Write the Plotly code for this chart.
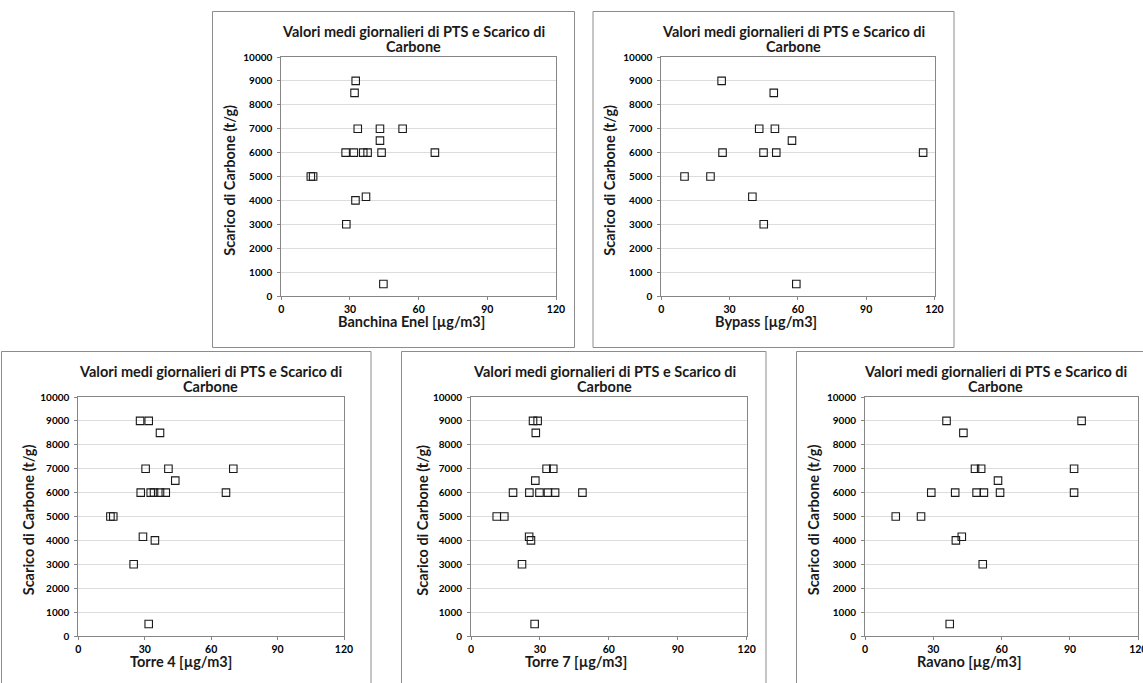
import plotly.graph_objects as go

W, H = 1143, 683

# ---------------- data ----------------
title_line1 = "Valori medi giornalieri di PTS e Scarico di"
title_line2 = "Carbone"
y_title = "Scarico di Carbone (t/g)"
x_titles = ["Banchina Enel [µg/m3]", "Bypass [µg/m3]", "Torre 4 [µg/m3]",
            "Torre 7 [µg/m3]", "Ravano [µg/m3]"]

x_banchina = [32.5, 32.0, 33.4, 43.1, 53.0, 43.1, 28.1, 31.7, 35.8, 37.7, 43.8, 67.1,
              12.9, 13.9, 32.4, 37.0, 28.4, 44.6]
y_banchina = [9000, 8500, 7000, 7000, 7000, 6500, 6000, 6000, 6000, 6000, 6000, 6000,
              5000, 5000, 4000, 4150, 3000, 500]

x_bypass = [26.5, 49.4, 43.0, 49.9, 57.4, 26.9, 44.9, 50.5, 115.0, 10.2, 21.6, 40.0,
            45.0, 59.3]
y_bypass = [9000, 8500, 7000, 7000, 6500, 6000, 6000, 6000, 6000, 5000, 5000, 4150,
            3000, 500]

x_torre4 = [27.9, 31.8, 36.9, 30.4, 40.7, 70.0, 43.8, 28.2, 32.7, 34.2, 36.9, 39.5,
            66.7, 14.5, 15.8, 29.2, 34.6, 25.0, 31.8]
y_torre4 = [9000, 9000, 8500, 7000, 7000, 7000, 6500, 6000, 6000, 6000, 6000, 6000,
            6000, 5000, 5000, 4150, 4000, 3000, 500]

x_torre7 = [27.0, 29.0, 28.2, 32.9, 35.8, 28.0, 18.3, 25.4, 29.8, 33.5, 36.6, 48.5,
            11.2, 14.5, 25.3, 26.1, 22.2, 27.7]
y_torre7 = [9000, 9000, 8500, 7000, 7000, 6500, 6000, 6000, 6000, 6000, 6000, 6000,
            5000, 5000, 4150, 4000, 3000, 500]

x_ravano = [35.8, 43.2, 95.1, 48.3, 51.0, 91.8, 58.4, 29.1, 39.6, 49.0, 52.2, 59.3,
            91.8, 13.5, 24.6, 39.9, 42.5, 51.7, 37.2]
y_ravano = [9000, 8500, 9000, 7000, 7000, 7000, 6500, 6000, 6000, 6000, 6000, 6000,
            6000, 5000, 5000, 4000, 4150, 3000, 500]

x_ticks = [0, 30, 60, 90, 120]
y_ticks = list(range(0, 10001, 1000))

series = [(x_banchina, y_banchina), (x_bypass, y_bypass), (x_torre4, y_torre4),
          (x_torre7, y_torre7), (x_ravano, y_ravano)]

# ---------------- layout geometry (pixels) ----------------
plot_px = [  # x0, x1, y_top, y_bottom
    (281.3, 556.0, 57.0, 296.0),
    (661.3, 934.5, 57.0, 296.0),
    (78.3, 344.0, 397.0, 636.0),
    (471.0, 746.7, 397.0, 636.0),
    (865.0, 1138.3, 397.0, 636.0),
]
box_px = [
    (212.5, 574.5, 11.5, 347.5),
    (593.0, 954.0, 11.5, 347.5),
    (1.5, 371.0, 351.5, 700.0),
    (401.5, 766.0, 351.5, 700.0),
    (796.5, 1160.0, 351.5, 700.0),
]
title_px = [(413.3, 31.7, 46.3), (793.3, 31.7, 46.3), (210.0, 371.7, 386.3),
            (604.3, 371.7, 386.3), (995.0, 371.7, 386.3)]
ytitle_px = [(228.7, 180.0), (608.7, 180.0), (28.3, 520.0), (421.7, 520.0), (813.3, 520.0)]
xtitle_px = [(411.7, 321.7), (765.7, 321.7), (180.5, 661.7), (575.5, 661.7), (969.0, 661.7)]


def px(x):
    return x / W


def py(y):
    return 1 - y / H


FONT = "Lato"
fig = go.Figure()
shapes = []
annotations = []

for i, (xs, ys) in enumerate(series):
    n = i + 1
    xa = "x" if n == 1 else f"x{n}"
    ya = "y" if n == 1 else f"y{n}"
    fig.add_trace(go.Scatter(
        x=xs, y=ys, mode="markers", xaxis=xa, yaxis=ya,
        marker=dict(symbol="square-open", size=7.5, color="#1a1a1a",
                    line=dict(width=1.1, color="#1a1a1a")),
        hoverinfo="x+y", showlegend=False, cliponaxis=False))

    x0, x1, yt, yb = plot_px[i]
    xkey = "xaxis" if n == 1 else f"xaxis{n}"
    ykey = "yaxis" if n == 1 else f"yaxis{n}"
    fig.layout[xkey] = dict(
        domain=[px(x0), px(x1)], anchor=ya, range=[0, 120], automargin=False,
        tickvals=x_ticks, ticks="outside", ticklen=3, tickcolor="#868686",
        showline=True, linecolor="#868686", linewidth=1, mirror=True,
        showgrid=False, zeroline=False, fixedrange=True, tickformat="d",
        ticklabeloverflow="allow",
        tickfont=dict(family=FONT, size=10.5, color="#000", weight="bold"))
    fig.layout[ykey] = dict(
        domain=[py(yb), py(yt)], anchor=xa, range=[0, 10000], automargin=False,
        tickvals=y_ticks, ticks="outside", ticklen=3, tickcolor="#868686",
        showline=True, linecolor="#868686", linewidth=1, mirror=True,
        showgrid=True, gridcolor="#dcdcdc", gridwidth=1, zeroline=False,
        fixedrange=True, ticklabelstandoff=3, tickformat="d",
        ticklabeloverflow="allow",
        tickfont=dict(family=FONT, size=10, color="#000", weight="bold"))

    bx0, bx1, by0, by1 = box_px[i]
    shapes.append(dict(type="rect", xref="paper", yref="paper",
                       x0=px(bx0), x1=px(bx1), y0=py(by1), y1=py(by0),
                       line=dict(color="#8c8c8c", width=1), fillcolor="rgba(0,0,0,0)",
                       layer="below"))

    tx, ty1, ty2 = title_px[i]
    for txt, ty in ((title_line1, ty1), (title_line2, ty2)):
        annotations.append(dict(text=txt, xref="paper", yref="paper",
                                x=px(tx), y=py(ty), xanchor="center", yanchor="middle",
                                showarrow=False,
                                font=dict(family=FONT, size=14.5, color="#1a1a1a",
                                          weight="bold")))
    yx, yy = ytitle_px[i]
    annotations.append(dict(text=y_title, xref="paper", yref="paper",
                            x=px(yx), y=py(yy), xanchor="center", yanchor="middle",
                            textangle=-90, showarrow=False,
                            font=dict(family=FONT, size=14.5, color="#1a1a1a", weight="bold")))
    xx, xy = xtitle_px[i]
    annotations.append(dict(text=x_titles[i], xref="paper", yref="paper",
                            x=px(xx), y=py(xy), xanchor="center", yanchor="middle",
                            showarrow=False,
                            font=dict(family=FONT, size=14.5, color="#1a1a1a", weight="bold")))

fig.update_layout(
    width=W, height=H, autosize=False,
    margin=dict(l=0, r=0, t=0, b=0, pad=0, autoexpand=False),
    paper_bgcolor="white", plot_bgcolor="white",
    shapes=shapes, annotations=annotations, showlegend=False)

fig.write_html("out.html", config={"displayModeBar": False},
               post_script="document.body.style.margin='0px';")
